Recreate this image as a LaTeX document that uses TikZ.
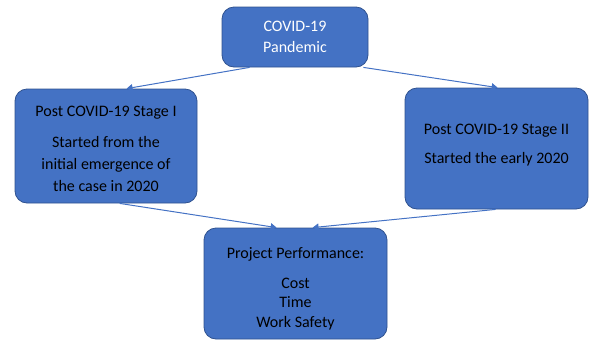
\documentclass[tikz,border=0pt]{standalone}
\usepackage{fontspec}
\setmainfont{Carlito}
\usetikzlibrary{arrows.meta}
\definecolor{boxfill}{HTML}{4472C4}
\definecolor{boxline}{HTML}{2F528F}
\newcommand{\topstrut}[1]{\rule{0pt}{#1}}
\newcommand{\bottomstrut}[1]{\rule[-#1]{0pt}{#1}}
\begin{document}
\begin{tikzpicture}[x=1pt,y=-1pt,
  stage/.style={draw=boxline, line width=0.8pt, fill=boxfill, rounded corners=12pt,
    inner sep=0pt, align=center, text=black},
  link/.style={draw=boxfill, line width=1pt,
    -{Triangle[length=6pt,width=7pt]}}]
\useasboundingbox (0,0) rectangle (590,341);
% central cause
\node[stage, text=white, minimum width=146pt, minimum height=60pt,
  font=\fontsize{16}{21}\selectfont] (covid) at (295,37)
  {COVID-19\\Pandemic};
% the two stages
\node[stage, minimum width=182pt, minimum height=114pt,
  font=\fontsize{16}{22}\selectfont] (stage1) at (106,146)
  {\topstrut{17pt}Post COVID-19 Stage I\\[9pt]Started from the\\initial emergence of\\the case in 2020};
\node[stage, minimum width=183pt, minimum height=121pt,
  font=\fontsize{16}{22}\selectfont] (stage2) at (496.5,148.5)
  {Post COVID-19 Stage II\\[7pt]Started the early 2020\bottomstrut{10pt}};
% outcome
\node[stage, minimum width=183pt, minimum height=111pt,
  font=\fontsize{16}{19.5}\selectfont] (perf) at (295.5,283.5)
  {\topstrut{22pt}Project Performance:\\[10pt]Cost\\Time\\Work Safety};
% connectors
\draw[link] ([xshift=28pt]covid.south west) -- ([xshift=112pt]stage1.north west);
\draw[link] ([xshift=-5pt]covid.south east) -- ([xshift=93pt]stage2.north west);
\draw[link] ([xshift=105pt]stage1.south west) -- ([xshift=73pt]perf.north west);
\draw[link] ([xshift=91pt]stage2.south west) -- ([xshift=109pt]perf.north west);
\end{tikzpicture}
\end{document}
